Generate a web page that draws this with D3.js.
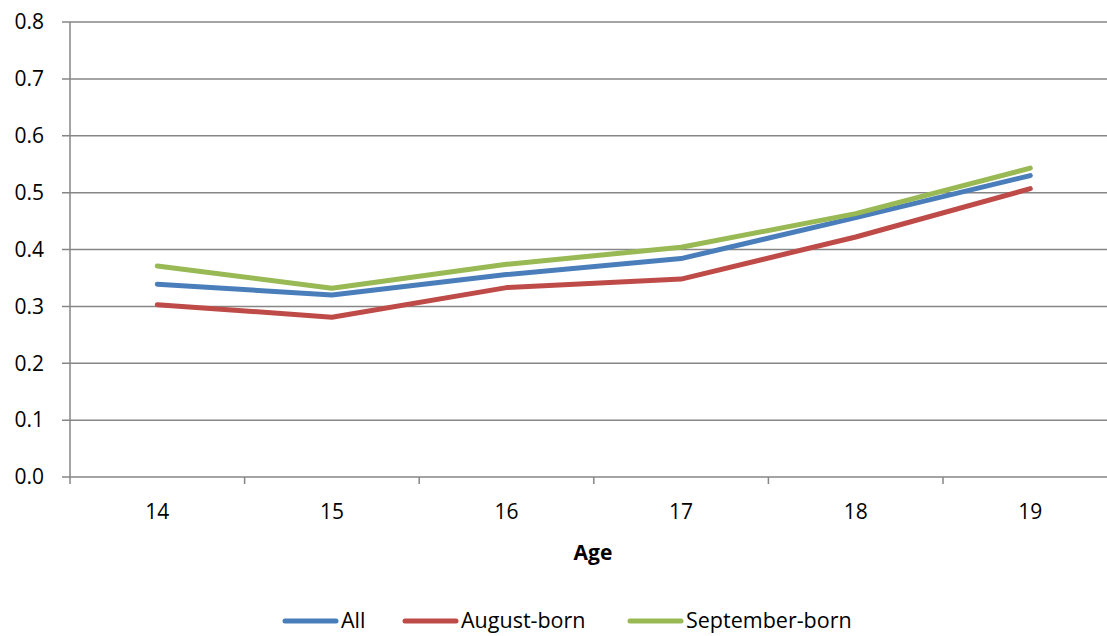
<!DOCTYPE html>
<html>
<head>
<meta charset="utf-8">
<script src="https://cdn.jsdelivr.net/npm/d3@7"></script>
<style>
  body { margin: 0; background: #fff; }
  text { font-family: "Open Sans", "Noto Sans", sans-serif; fill: #000; }
</style>
</head>
<body>
<div id="chart"></div>
<script>
// DATA
// ------------------------------------------------------------------
var ages = ["14", "15", "16", "17", "18", "19"];
var allValues = [0.339, 0.320, 0.356, 0.384, 0.456, 0.530];
var augustValues = [0.303, 0.281, 0.333, 0.348, 0.422, 0.507];
var septemberValues = [0.371, 0.332, 0.374, 0.404, 0.463, 0.543];
var yTicks = [0, 0.1, 0.2, 0.3, 0.4, 0.5, 0.6, 0.7, 0.8];

var series = [
  { name: "All", values: allValues, color: "#4A7EBB" },
  { name: "August-born", values: augustValues, color: "#BE4B48" },
  { name: "September-born", values: septemberValues, color: "#98B954" }
];

// CANVAS
// ------------------------------------------------------------------
var width = 1107,
    height = 636;

var plotLeft = 70, plotTop = 22, plotBottom = 477,
    band = 174.6;

var svg = d3.select("#chart")
    .append("svg")
    .attr("width", width)
    .attr("height", height);

// AXES
// ------------------------------------------------------------------
var xScale = d3.scaleBand()
    .domain(ages)
    .range([plotLeft, plotLeft + band * ages.length]);

var yScale = d3.scaleLinear()
    .domain([0, 0.8])
    .range([plotBottom, plotTop]);

// gridlines with small left ticks
svg.append("g")
    .selectAll("line")
    .data(yTicks)
    .join("line")
    .attr("x1", plotLeft - 8)
    .attr("x2", plotLeft + band * ages.length)
    .attr("y1", function(d) { return yScale(d); })
    .attr("y2", function(d) { return yScale(d); })
    .attr("stroke", "#868686")
    .attr("stroke-width", 1.5);

svg.append("g")
    .selectAll("text")
    .data(yTicks)
    .join("text")
    .attr("x", 44)
    .attr("y", function(d) { return yScale(d); })
    .attr("dy", "0.35em")
    .attr("text-anchor", "end")
    .style("font-size", "21px")
    .text(function(d) { return d.toFixed(1); });

// vertical axis line
svg.append("line")
    .attr("x1", plotLeft).attr("x2", plotLeft)
    .attr("y1", plotTop).attr("y2", plotBottom + 7)
    .attr("stroke", "#868686")
    .attr("stroke-width", 1.5);

// category boundary ticks
svg.append("g")
    .selectAll("line")
    .data(ages.slice(1))
    .join("line")
    .attr("x1", function(d) { return xScale(d); })
    .attr("x2", function(d) { return xScale(d); })
    .attr("y1", plotBottom)
    .attr("y2", plotBottom + 7)
    .attr("stroke", "#868686")
    .attr("stroke-width", 1.5);

svg.append("g")
    .selectAll("text")
    .data(ages)
    .join("text")
    .attr("x", function(d) { return xScale(d) + xScale.bandwidth() / 2; })
    .attr("y", 519)
    .attr("text-anchor", "middle")
    .style("font-size", "21px")
    .text(function(d) { return d; });

svg.append("text")
    .attr("x", 593)
    .attr("y", 560)
    .attr("text-anchor", "middle")
    .style("font-size", "21px")
    .style("font-weight", "bold")
    .text("Age");

// PATHS
// ------------------------------------------------------------------
var line = d3.line()
    .x(function(d, i) { return xScale(ages[i]) + xScale.bandwidth() / 2; })
    .y(function(d) { return yScale(d); });

svg.append("g")
    .selectAll("path")
    .data(series)
    .join("path")
    .attr("d", function(s) { return line(s.values); })
    .attr("fill", "none")
    .attr("stroke", function(s) { return s.color; })
    .attr("stroke-width", 5)
    .attr("stroke-linecap", "round")
    .attr("stroke-linejoin", "round");

// LEGEND
// ------------------------------------------------------------------
var legendX = [285, 405, 630];
var legend = svg.append("g")
    .selectAll("g")
    .data(series)
    .join("g")
    .attr("transform", function(s, i) { return "translate(" + legendX[i] + ",621)"; });

legend.append("line")
    .attr("x1", 0).attr("x2", 51)
    .attr("stroke", function(s) { return s.color; })
    .attr("stroke-width", 5)
    .attr("stroke-linecap", "round");

legend.append("text")
    .attr("x", 56)
    .attr("dy", "0.33em")
    .style("font-size", "21.5px")
    .text(function(s) { return s.name; });
</script>
</body>
</html>
